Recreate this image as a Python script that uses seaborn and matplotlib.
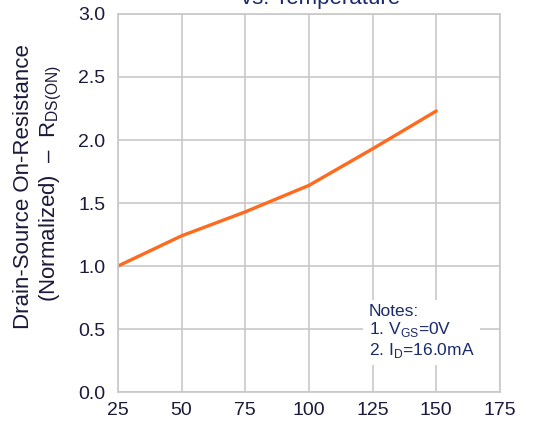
import numpy as np
import pandas as pd
import matplotlib
matplotlib.use("Agg")
import matplotlib.pyplot as plt
import seaborn as sns

# data
temperature = [25, 50, 75, 100, 125, 150]
rds_norm = [1.00, 1.24, 1.43, 1.64, 1.93, 2.23]

x_ticks = [25, 50, 75, 100, 125, 150, 175]
y_ticks = [0.0, 0.5, 1.0, 1.5, 2.0, 2.5, 3.0]

sns.set_style("white")
plt.rcParams["font.family"] = ["Liberation Sans", "DejaVu Sans"]
plt.rcParams["mathtext.fontset"] = "custom"
plt.rcParams["mathtext.rm"] = "Liberation Sans"

ink = "#1a1a3a"
blue = "#1a2a6a"

df = pd.DataFrame({"T": temperature, "R": rds_norm})

fig = plt.figure(figsize=(5.41, 4.23), dpi=100)
ax = fig.add_axes([0.218, 0.073, 0.706, 0.894])

sns.lineplot(data=df, x="T", y="R", ax=ax, color="#ff6a1f", linewidth=2.4)

ax.set_xlim(25, 175)
ax.set_ylim(0, 3)
ax.set_xticks(x_ticks)
ax.set_yticks(y_ticks)
ax.set_yticklabels([f"{v:.1f}" for v in y_ticks])
ax.grid(True, color="#c8c8c8", linewidth=1.2)
for s in ax.spines.values():
    s.set_color("#c8c8c8")
    s.set_linewidth(1.2)
ax.tick_params(length=0, labelsize=14, colors=ink)
ax.tick_params(axis="y", pad=9)
ax.tick_params(axis="x", pad=7)
ax.set_xlabel("")
ax.set_ylabel("")

fig.text(0.044, 0.56, "Drain-Source On-Resistance", rotation=90,
         ha="center", va="center", fontsize=16, color=ink)
fig.text(0.095, 0.566, r"(Normalized)  –  R$_{\mathrm{DS(ON)}}$", rotation=90,
         ha="center", va="center", fontsize=16, color=ink)

fig.text(0.592, 1.003, "vs. Temperature", ha="center", va="center",
         fontsize=16, color=blue)

ax.text(123.5, 0.7, "Notes:\n1. V$_{\\mathrm{GS}}$=0V\n2. I$_{\\mathrm{D}}$=16.0mA",
        fontsize=12.5, color=blue, va="top", ha="left", linespacing=1.1,
        bbox=dict(facecolor="white", edgecolor="none", pad=4))

fig.savefig("out.png", dpi=100)
